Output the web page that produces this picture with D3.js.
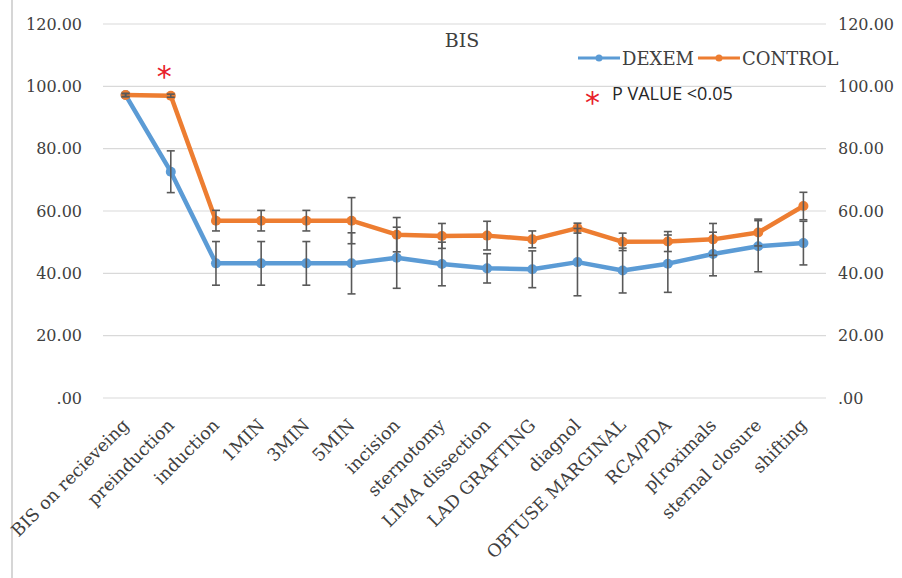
<!DOCTYPE html>
<html>
<head>
<meta charset="utf-8">
<script src="https://cdn.jsdelivr.net/npm/d3@7"></script>
<style>
  body { margin: 0; background: #fff; }
  svg text { font-family: "DejaVu Serif", "Liberation Serif", serif; }
</style>
</head>
<body>
<div id="chart"></div>
<script>
// Data
const categories = ["BIS on recieveing", "preinduction", "induction", "1MIN", "3MIN", "5MIN",
    "incision", "sternotomy", "LIMA dissection", "LAD GRAFTING", "diagnol", "OBTUSE MARGINAL",
    "RCA/PDA", "p[roximals", "sternal closure", "shifting"];
const dexem = [97.2, 72.6, 43.2, 43.2, 43.2, 43.2, 45.0, 43.0, 41.6, 41.3, 43.6, 40.9, 43.1, 46.2, 48.7, 49.7];
const dexemSd = [0.5, 6.7, 7.0, 7.0, 7.0, 9.8, 9.8, 7.0, 4.7, 5.9, 10.8, 7.2, 9.2, 7.0, 8.2, 7.0];
const control = [97.2, 97.0, 56.9, 56.9, 56.9, 56.9, 52.4, 52.0, 52.1, 50.9, 54.5, 50.1, 50.2, 50.9, 53.1, 61.6];
const controlSd = [0.5, 0.5, 3.3, 3.3, 3.3, 7.4, 5.5, 4.0, 4.6, 2.7, 1.6, 2.8, 3.2, 5.1, 4.3, 4.4];
const yTicks = [0, 20, 40, 60, 80, 100, 120];

const W = 902, H = 578;
const plotLeft = 103, plotRight = 826, plotTop = 24, plotBottom = 398;

const svg = d3.select("#chart").append("svg")
    .attr("width", W)
    .attr("height", H);

// thin frame line at left edge
svg.append("line")
    .attr("x1", 12).attr("x2", 12).attr("y1", 0).attr("y2", H)
    .attr("stroke", "#d6d6d6").attr("stroke-width", 2);

const x = d3.scaleBand().domain(categories).range([plotLeft, plotRight]);
const y = d3.scaleLinear().domain([0, 120]).range([plotBottom, plotTop]);
const cx = d => x(d) + x.bandwidth() / 2;
const fmt = v => v === 0 ? ".00" : d3.format(".2f")(v);

// gridlines
svg.append("g")
    .selectAll("line")
    .data(yTicks)
    .enter().append("line")
    .attr("x1", plotLeft).attr("x2", plotRight)
    .attr("y1", d => y(d)).attr("y2", d => y(d))
    .attr("stroke", "#d9d9d9").attr("stroke-width", 1.2);

// left axis
const yLeft = svg.append("g")
    .attr("transform", `translate(${plotLeft - 18},0)`)
    .call(d3.axisLeft(y).tickValues(yTicks).tickSize(0).tickFormat(fmt));
yLeft.select(".domain").remove();
yLeft.selectAll("text")
    .style("font-size", "16px").style("fill", "#404040")
    .style("font-family", "DejaVu Serif");

// right axis
const yRight = svg.append("g")
    .attr("transform", `translate(${plotRight + 9},0)`)
    .call(d3.axisRight(y).tickValues(yTicks).tickSize(0).tickFormat(fmt));
yRight.select(".domain").remove();
yRight.selectAll("text")
    .style("font-size", "16px").style("fill", "#404040")
    .style("font-family", "DejaVu Serif");

// category labels
svg.append("g")
    .selectAll("text")
    .data(categories)
    .enter().append("text")
    .attr("transform", d => `translate(${cx(d)},${plotBottom + 24}) rotate(-45)`)
    .attr("text-anchor", "end")
    .attr("dy", "0.35em")
    .style("font-size", "17.5px")
    .style("fill", "#404040")
    .text(d => d);

const series = [
    { name: "DEXEM", values: dexem, sd: dexemSd, color: "#5B9BD5" },
    { name: "CONTROL", values: control, sd: controlSd, color: "#ED7D31" }
];

const line = d3.line()
    .x((d, i) => cx(categories[i]))
    .y(d => y(d));

series.forEach(s => {
    svg.append("path")
        .datum(s.values)
        .attr("fill", "none")
        .attr("stroke", s.color)
        .attr("stroke-width", 4.5)
        .attr("stroke-linejoin", "round")
        .attr("d", line);

    svg.append("g")
        .selectAll("circle")
        .data(s.values)
        .enter().append("circle")
        .attr("cx", (d, i) => cx(categories[i]))
        .attr("cy", d => y(d))
        .attr("r", 5)
        .attr("fill", s.color);
});

// error bars
series.forEach(s => {
    const g = svg.append("g").attr("stroke", "#595959").attr("stroke-width", 1.6);
    s.values.forEach((v, i) => {
        const px = cx(categories[i]);
        const y1 = y(v + s.sd[i]), y2 = y(v - s.sd[i]);
        g.append("line").attr("x1", px).attr("x2", px).attr("y1", y1).attr("y2", y2);
        g.append("line").attr("x1", px - 4).attr("x2", px + 4).attr("y1", y1).attr("y2", y1);
        g.append("line").attr("x1", px - 4).attr("x2", px + 4).attr("y1", y2).attr("y2", y2);
    });
});

// title
svg.append("text")
    .attr("x", 462).attr("y", 47)
    .attr("text-anchor", "middle")
    .style("font-size", "19px").style("fill", "#404040")
    .text("BIS");

// legend
const legend = svg.append("g").attr("transform", "translate(578,58)");
let lx = 0;
series.forEach(s => {
    legend.append("line")
        .attr("x1", lx).attr("x2", lx + 42).attr("y1", 0).attr("y2", 0)
        .attr("stroke", s.color).attr("stroke-width", 3);
    legend.append("circle")
        .attr("cx", lx + 21).attr("cy", 0).attr("r", 3.5)
        .attr("fill", s.color);
    const t = legend.append("text")
        .attr("x", lx + 44).attr("y", 6.5)
        .style("font-size", "18px").style("fill", "#404040")
        .text(s.name);
    lx += 44 + t.node().getComputedTextLength() + 4;
});

// significance marks
svg.append("text")
    .attr("x", cx(categories[1]) - 14).attr("y", 87)
    .style("font-family", "DejaVu Sans")
    .style("font-size", "30px").style("fill", "#e8202a")
    .text("*");
svg.append("text")
    .attr("x", 585).attr("y", 113)
    .style("font-family", "DejaVu Sans")
    .style("font-size", "30px").style("fill", "#e8202a")
    .text("*");
svg.append("text")
    .attr("x", 612).attr("y", 100)
    .style("font-family", "Open Sans")
    .style("font-size", "18px").style("fill", "#262626")
    .text("P VALUE <0.05");
</script>
</body>
</html>
